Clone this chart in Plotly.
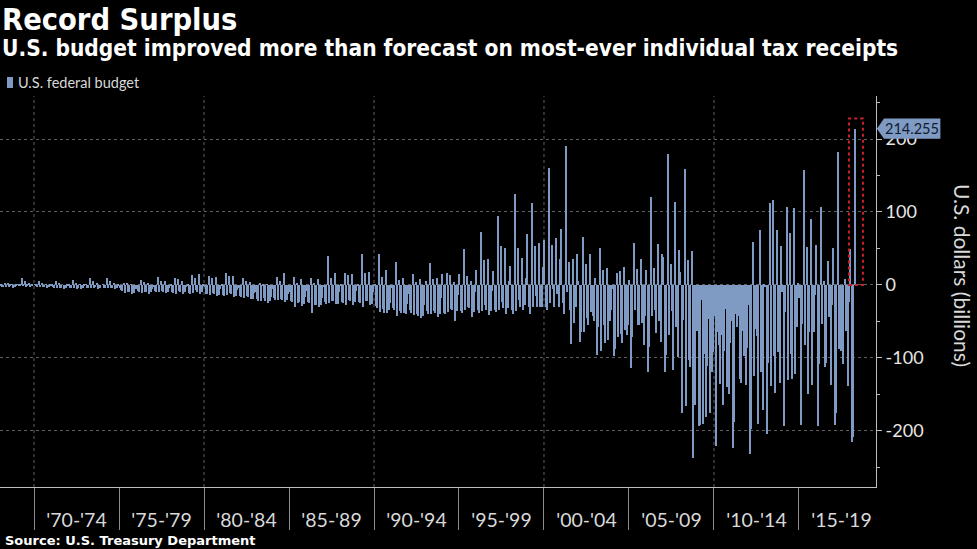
import pandas as pd
import plotly.graph_objects as go

# ---- Monthly U.S. federal budget balance, $ billions (Jan 1968 .. Apr 2018) ----
b_1968_1969 = [
    -1, -3, -3, 2, -3, 3, -3, -2, 1, -4, -3, -1,
    1, -1, -2, 9, -2, 5, -3, -2, 2, -3, -2, 0,
]
b_1970_1974 = [
    1, -2, -3, 6, -3, 3, -3, -3, 1, -4, -3, -1,
    -1, -3, -4, 5, -4, 2, -4, -4, 0, -5, -4, -2,
    -1, -4, -4, 7, -4, 3, -5, -4, 1, -5, -4, -1,
    1, -4, -4, 9, -4, 5, -4, -3, 2, -5, -4, 0,
    1, -4, -4, 9, -4, 5, -4, -4, 3, -6, -4, -2,
]
b_1975_1979 = [
    -4, -7, -8, 3, -11, 2, -9, -10, 1, -13, -11, -6,
    -5, -8, -9, 7, -11, 4, -9, -10, 2, -12, -10, -6,
    -3, -8, -10, 11, -10, 6, -8, -9, 5, -11, -9, -4,
    -2, -10, -11, 9, -12, 8, -8, -10, 6, -12, -10, -3,
    -1, -11, -12, 14, -11, 9, -7, -10, 15, -13, -10, -2,
]
b_1980_1984 = [
    -3, -12, -13, 12, -14, 10, -11, -12, 11, -15, -14, -6,
    -2, -14, -15, 17, -14, 12, -11, -13, 12, -16, -15, -7,
    -4, -15, -17, 10, -18, 6, -15, -16, 4, -19, -19, -11,
    -10, -19, -22, 3, -22, -2, -18, -22, 1, -25, -22, -17,
    -6, -18, -20, 11, -21, 5, -19, -20, 17, -24, -21, -12,
]
b_1985_1989 = [
    -9, -22, -24, 11, -30, 3, -25, -24, 8, -29, -26, -16,
    -8, -23, -25, 10, -38, 2, -27, -27, 8, -30, -27, -18,
    -3, -24, -26, 40, -25, 10, -22, -22, 16, -26, -26, -10,
    -2, -24, -25, 16, -28, 14, -20, -22, 15, -27, -24, -8,
    -2, -24, -25, 42, -30, 16, -22, -22, 18, -28, -26, -10,
]
b_1990_1994 = [
    -1, -29, -32, 42, -37, 11, -33, -38, 21, -38, -35, -25,
    -4, -31, -34, 31, -42, 7, -36, -38, 10, -38, -40, -26,
    -12, -35, -38, 15, -41, 4, -40, -42, 8, -45, -42, -28,
    5, -36, -40, 30, -40, 8, -36, -38, 10, -44, -40, -18,
    15, -38, -40, 17, -37, 14, -33, -35, 4, -50, -36, -14,
]
b_1995_1999 = [
    15, -36, -38, 49, -34, 12, -30, -32, 6, -44, -37, -10,
    20, -35, -38, 72, -36, 34, -28, -35, 35, -41, -36, -8,
    19, -35, -37, 94, -34, 54, -24, -32, 50, -40, -32, 5,
    26, -34, -40, 125, -36, 51, -20, -30, 37, -35, -28, 10,
    70, -30, -40, 113, -30, 53, -15, -30, 58, -30, -30, 25,
]
b_2000_2004 = [
    62, -30, -35, 160, -25, 55, -5, -30, 65, -13, -30, 35,
    77, -25, -40, 190, -10, 32, -35, -81, 36, -52, -30, 42,
    5, -78, -65, 66, -65, 29, -45, -55, 42, -37, -43, -50,
    10, -96, -57, 51, -90, 21, -55, -80, 23, -75, -50, -35,
    -5, -97, -88, 17, -71, 19, -67, -80, 24, -62, -69, -55,
]
b_2005_2009 = [
    7, -114, -71, 58, -35, 22, -55, -55, 36, -52, -83, -42,
    21, -119, -85, 120, -43, 23, -34, -66, 56, -49, -78, 43,
    38, -120, -96, 179, -68, 29, -36, -116, 114, -57, -99, 48,
    18, -176, -48, 159, -166, 34, -103, -112, 46, -237, -164, -52,
    -63, -193, -192, -21, -190, -94, -181, -111, -47, -176, -120, -92,
]
b_2010_2014 = [
    -43, -221, -65, -83, -136, -68, -165, -90, -33, -140, -150, -80,
    -50, -223, -188, -40, -58, -43, -129, -134, -63, -98, -137, -86,
    -27, -232, -198, 59, -125, -60, -70, -191, 75, -120, -172, 0.3,
    -3, -204, -107, 113, -139, 117, -98, -148, 75, -92, -135, 53,
    -10, -194, -37, 107, -130, 71, -95, -129, 106, -122, -57, 2,
]
b_2015_2018 = [
    -18, -192, -53, 157, -82, 52, -149, -64, 91, -137, -65, -14,
    55, -193, -108, 107, -53, 6, -113, -107, 33, -44, -137, -28,
    51, -192, -176, 182, -88, -90, -43, -108, 8, -63, -139, -23,
    49, -215, -209, 214.255,
]

start_month = "1968-01-01"
period_starts = [1970, 1975, 1980, 1985, 1990, 1995, 2000, 2005, 2010, 2015]
period_labels = ["'70-'74", "'75-'79", "'80-'84", "'85-'89", "'90-'94",
                 "'95-'99", "'00-'04", "'05-'09", "'10-'14", "'15-'19"]
decade_lines = [1970, 1980, 1990, 2000, 2010]
y_ticks = [-200, -100, 0, 100, 200]
y_ticktext = ["-200", "-100", "0", "100", "200"]
latest_value = 214.255

values = (b_1968_1969 + b_1970_1974 + b_1975_1979 + b_1980_1984 + b_1985_1989
          + b_1990_1994 + b_1995_1999 + b_2000_2004 + b_2005_2009
          + b_2010_2014 + b_2015_2018)
months = pd.date_range(start_month, periods=len(values), freq="MS")
x_dec = [d.year + (d.month - 0.5) / 12 for d in months]

BAR = "#7f9bc4"
TXT = "#d9d9d9"
GRID = "#5e5e5e"
AX = "#bdbdbd"
COND = "'DejaVu Sans Condensed', 'Liberation Sans Narrow', sans-serif"

fig = go.Figure()
fig.add_trace(go.Bar(
    x=x_dec, y=values, width=1 / 12,
    marker=dict(color=BAR, line=dict(width=0)),
    name="U.S. federal budget", showlegend=False,
))

fig.update_layout(
    width=977, height=549,
    paper_bgcolor="#000000", plot_bgcolor="#000000",
    margin=dict(l=0, r=101, t=96, b=62),
    bargap=0,
    font=dict(family="Lato, 'Open Sans', sans-serif", color=TXT),
    xaxis=dict(
        range=[1968.0, 2019.53],
        showgrid=False, zeroline=False,
        showline=True, linecolor=AX, linewidth=1,
        tickmode="array",
        tickvals=[p + 2.5 for p in period_starts],
        ticktext=period_labels,
        ticks="outside", ticklen=16, tickcolor="rgba(0,0,0,0)",
        tickfont=dict(size=19.5, color=TXT, family="Lato, sans-serif"),
        minor=dict(tickmode="array", tickvals=period_starts, ticks="outside",
                   ticklen=42, tickcolor="#8c8c8c", tickwidth=1, showgrid=False),
        fixedrange=True,
    ),
    yaxis=dict(
        side="right",
        range=[-277, 259],
        tickmode="array", tickvals=y_ticks, ticktext=y_ticktext,
        showgrid=True, gridcolor=GRID, griddash="dot", gridwidth=1,
        zeroline=False,
        showline=True, linecolor=AX, linewidth=1,
        ticks="outside", ticklen=5, tickcolor=AX,
        tickfont=dict(size=18, color="#e6e6e6", family="Lato, sans-serif"),
        minor=dict(tickmode="linear", tick0=0, dtick=50, ticks="outside",
                   ticklen=3, tickcolor=AX, showgrid=False),
        fixedrange=True,
    ),
)

# vertical dotted decade gridlines
for yr in decade_lines:
    fig.add_shape(type="line", xref="x", yref="paper", x0=yr, x1=yr, y0=0, y1=1,
                  line=dict(color=GRID, width=1, dash="dot"), layer="below")

# red dotted highlight around latest month
last_x = x_dec[-1]
fig.add_shape(type="rect", xref="x", yref="y",
              x0=last_x - 0.35, x1=last_x + 0.47, y0=0, y1=228,
              line=dict(color="#c8202a", width=2, dash="dot"),
              fillcolor="rgba(0,0,0,0)")

# value tag on right axis
fig.add_shape(type="path", xref="paper", yref="y",
              path=(f"M 1.001,{latest_value} L 1.0091,{latest_value + 14} "
                    f"L 1.0735,{latest_value + 14} L 1.0735,{latest_value - 14} "
                    f"L 1.0091,{latest_value - 14} Z"),
              fillcolor=BAR, line=dict(width=0))
fig.add_annotation(xref="paper", yref="y", x=1.0413, y=latest_value,
                   text=f"{latest_value:.3f}", showarrow=False,
                   xanchor="center", yanchor="middle",
                   font=dict(size=14.5, color="#0e1a30", family="Lato, sans-serif"))

# legend (manual)
fig.add_shape(type="rect", xref="paper", yref="paper",
              x0=7 / 876, x1=13 / 876, y0=(487 - 88) / 391, y1=(487 - 77) / 391,
              fillcolor=BAR, line=dict(width=0))
fig.add_annotation(xref="paper", yref="paper", x=16 / 876, y=(487 - 82) / 391,
                   text="U.S. federal budget", showarrow=False,
                   xanchor="left", yanchor="middle",
                   font=dict(size=14.5, color=TXT, family="Lato, sans-serif"))

# titles
fig.add_annotation(xref="paper", yref="paper", x=0, y=(487 - 19) / 391,
                   text="<b>Record Surplus</b>", showarrow=False,
                   xanchor="left", yanchor="middle",
                   font=dict(size=30.5, color="#ffffff", family=COND))
fig.add_annotation(xref="paper", yref="paper", x=0, y=(487 - 48) / 391,
                   text="<b>U.S. budget improved more than forecast on most-ever individual tax receipts</b>",
                   showarrow=False, xanchor="left", yanchor="middle",
                   font=dict(size=22.5, color="#ffffff", family=COND))
fig.add_annotation(xref="paper", yref="paper", x=3 / 876, y=(487 - 540) / 391,
                   text="<b>Source: U.S. Treasury Department</b>", showarrow=False,
                   xanchor="left", yanchor="middle",
                   font=dict(size=13, color="#ffffff", family="'DejaVu Sans', Verdana, sans-serif"))

# right axis title (reads top-to-bottom)
fig.add_annotation(xref="paper", yref="paper", x=963 / 876, y=(487 - 275) / 391,
                   text="U.S. dollars (billions)", showarrow=False, textangle=90,
                   xanchor="center", yanchor="middle",
                   font=dict(size=21, color=TXT, family="Lato, sans-serif"))

fig.write_html("out.html", config={"displayModeBar": False})

# remove the browser's default 8px page margin so the figure fills the window
with open("out.html", encoding="utf-8") as fh:
    page = fh.read()
page = page.replace("<head>", "<head><style>html,body{margin:0;padding:0;background:#000;overflow:hidden;}</style>", 1)
with open("out.html", "w", encoding="utf-8") as fh:
    fh.write(page)
